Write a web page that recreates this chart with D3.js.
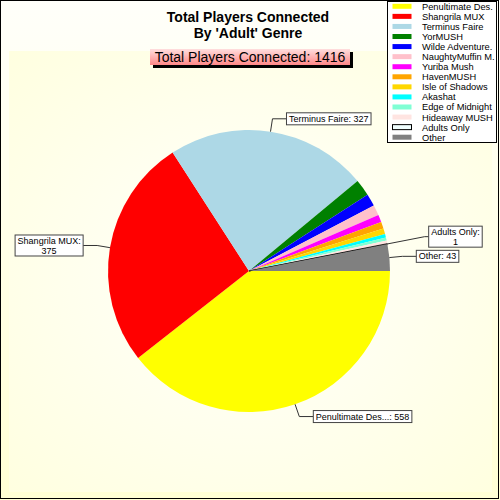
<!DOCTYPE html>
<html>
<head>
<meta charset="utf-8">
<script src="https://cdn.jsdelivr.net/npm/d3@7"></script>
<style>
  body { margin: 0; }
  svg { display: block; font-family: "Liberation Sans", Arial, sans-serif; }
</style>
</head>
<body>
<svg id="chart" width="500" height="500"></svg>
<script>
// slices, clockwise from 3 o'clock
const names = ["Penultimate Des.", "Shangrila MUX", "Terminus Faire", "YorMUSH",
    "Wilde Adventure.", "NaughtyMuffin M.", "Yuriba Mush", "HavenMUSH",
    "Isle of Shadows", "Akashat", "Edge of Midnight", "Hideaway MUSH",
    "Adults Only", "Other"];
const values = [558, 375, 327, 27, 20, 17, 12, 11, 9, 6, 5, 5, 1, 43];
const colors = ["#ffff00", "#ff0000", "#add8e6", "#008000", "#0000ff", "#ffc0cb",
    "#ff00ff", "#ffa500", "#ffd700", "#00ffff", "#7fffd4", "#ffe4e1",
    "#f0ffff", "#808080"];
const labeled = ["Penultimate Des.", "Shangrila MUX", "Terminus Faire", "Adults Only", "Other"];
const wrapped = ["Shangrila MUX", "Adults Only"];
const titleLines = ["Total Players Connected", "By 'Adult' Genre"];
const subtitle = "Total Players Connected: " + d3.sum(values);

const width = 500, height = 500;
const cx = 249, cy = 271, r = 141;

const svg = d3.select('#chart');
const defs = svg.append('defs');

let bg = defs.append('linearGradient').attr('id', 'bg')
    .attr('x1', 0).attr('y1', 0).attr('x2', 0).attr('y2', 1);
bg.append('stop').attr('offset', '0%').attr('stop-color', '#fffffa');
bg.append('stop').attr('offset', '100%').attr('stop-color', '#ffffd4');

let plotBg = defs.append('radialGradient').attr('id', 'plotbg')
    .attr('cx', '50%').attr('cy', '50%').attr('r', '70%');
plotBg.append('stop').attr('offset', '0%').attr('stop-color', '#fffffc');
plotBg.append('stop').attr('offset', '100%').attr('stop-color', '#ffffe0');

let subBg = defs.append('linearGradient').attr('id', 'subbg')
    .attr('x1', 0).attr('y1', 0).attr('x2', 0).attr('y2', 1);
subBg.append('stop').attr('offset', '0%').attr('stop-color', '#ffdede');
subBg.append('stop').attr('offset', '100%').attr('stop-color', '#ff8888');

// backgrounds
svg.append('rect').attr('width', width).attr('height', height).attr('fill', 'url(#bg)');
svg.append('rect').attr('x', 9).attr('y', 51).attr('width', 483).attr('height', 441)
    .attr('fill', 'url(#plotbg)');

// title
svg.append('g').selectAll('text').data(titleLines).join('text')
    .attr('x', 248).attr('y', (d, i) => 22 + i * 16)
    .attr('text-anchor', 'middle')
    .attr('font-size', 14).attr('font-weight', 'bold')
    .text(d => d);

// subtitle box with shadow
svg.append('rect').attr('x', 153).attr('y', 52).attr('width', 200).attr('height', 16).attr('fill', '#000');
svg.append('rect').attr('x', 150).attr('y', 49).attr('width', 200).attr('height', 16).attr('fill', 'url(#subbg)');
svg.append('text').attr('x', 250).attr('y', 62).attr('text-anchor', 'middle')
    .attr('font-size', 14).text(subtitle);

// pie
const pie = d3.pie().sort(null).value(d => d)
    .startAngle(Math.PI / 2).endAngle(Math.PI / 2 + 2 * Math.PI);
const arcs = pie(values).map((a, i) => Object.assign(a, { name: names[i], color: colors[i] }));
const arc = d3.arc().innerRadius(0).outerRadius(r);

const g = svg.append('g').attr('transform', `translate(${cx},${cy})`);
g.selectAll('path').data(arcs).join('path')
    .attr('d', arc)
    .attr('fill', d => d.color)
    .attr('stroke', d => d.name === 'Adults Only' ? '#000' : 'none')
    .attr('stroke-width', 0.8);

// labels
function pt (a, rad) {
    return [rad * Math.sin(a), -rad * Math.cos(a)];
}

const measure = svg.append('text').attr('font-size', 9).attr('visibility', 'hidden');
function textWidth (s) {
    measure.text(s);
    return measure.node().getComputedTextLength();
}

let labels = arcs.filter(d => labeled.includes(d.name))
    .sort((a, b) => b.value - a.value);
let placed = [];

labels.forEach(d => {
    let mid = (d.startAngle + d.endAngle) / 2;
    let right = Math.sin(mid) > 0;
    let name = d.name.replace(/\.$/, '...');
    let lines = wrapped.includes(d.name) ? [name + ':', String(d.value)] : [name + ': ' + d.value];
    let w = d3.max(lines, textWidth) + 5;
    let h = lines.length > 1 ? 21 : 12;
    let rad = r + 13, gap = 14, box;
    for (let k = 0; k < 5; k++) {
        let e = pt(mid, rad);
        let bx = right ? e[0] + gap : e[0] - gap - w;
        box = { x: bx, y: e[1] - h / 2, w: w, h: h, e: e, right: right };
        let hit = placed.some(p => bx < p.x + p.w && bx + w > p.x && box.y < p.y + p.h && box.y + h > p.y);
        if (!hit) break;
        rad += 25; gap = 4;
    }
    placed.push(box);

    let rim = pt(mid, r);
    let end = [box.right ? box.x : box.x + box.w, box.e[1]];
    g.append('polyline')
        .attr('points', [rim, box.e, end].map(p => p.join(',')).join(' '))
        .attr('fill', 'none').attr('stroke', '#333').attr('stroke-width', 1);
    g.append('rect').attr('x', box.x).attr('y', box.y).attr('width', box.w).attr('height', box.h)
        .attr('fill', '#fff').attr('stroke', '#444').attr('stroke-width', 1);
    g.append('g').selectAll('text').data(lines).join('text')
        .attr('x', box.x + box.w / 2).attr('y', (t, i) => box.y + 9 + i * 10)
        .attr('text-anchor', 'middle').attr('font-size', 9)
        .text(t => t);
});
measure.remove();

// legend
const ly = d3.scalePoint().domain(names).range([6.3, 137.2]);
svg.append('rect').attr('x', 387.5).attr('y', 1.5).attr('width', 109).attr('height', 141)
    .attr('fill', '#fff').attr('stroke', '#000');
const leg = svg.append('g').selectAll('g').data(names).join('g')
    .attr('transform', d => `translate(0,${ly(d)})`);
leg.append('rect').attr('x', 392.5).attr('y', -2.5).attr('width', 19).attr('height', 5)
    .attr('fill', (d, i) => colors[i])
    .attr('stroke', d => d === 'Adults Only' ? '#000' : 'none');
leg.append('text').attr('x', 422).attr('y', 3.5).attr('font-size', 9.3).text(d => d);

// frame
svg.append('rect').attr('x', 0.5).attr('y', 0.5).attr('width', 498).attr('height', 498)
    .attr('fill', 'none').attr('stroke', '#000');
svg.append('path').attr('d', 'M498.5,0V498.5H0').attr('fill', 'none').attr('stroke', '#000');
</script>
</body>
</html>
